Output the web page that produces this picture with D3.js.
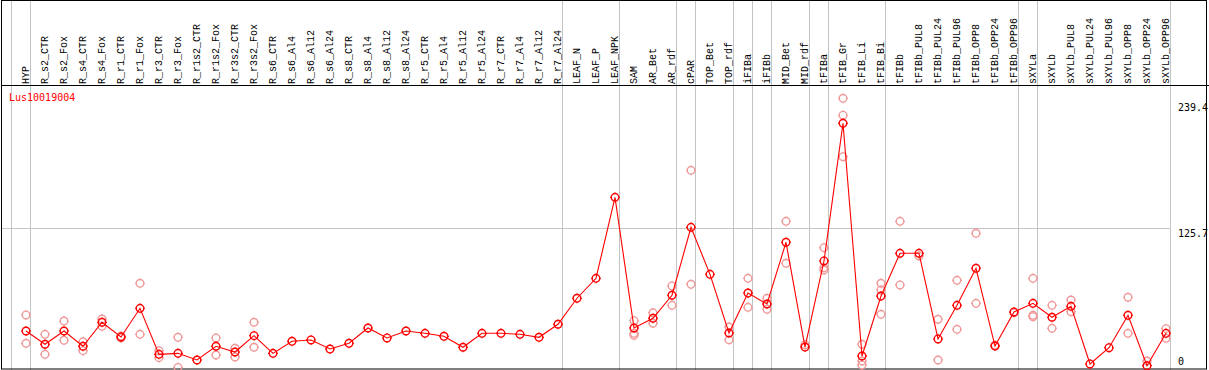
<!DOCTYPE html>
<html>
<head>
<meta charset="utf-8">
<script src="https://cdn.jsdelivr.net/npm/d3@7"></script>
<style>
  body { margin: 0; background: #fff; }
  svg { display: block; font-family: "DejaVu Sans Mono", "Liberation Mono", monospace; }
</style>
</head>
<body>
<div id="chart"></div>
<script>
const gene = "Lus10019004";

const categories = [
  "HYP", "R_s2_CTR", "R_s2_Fox", "R_s4_CTR", "R_s4_Fox", "R_r1_CTR", "R_r1_Fox",
  "R_r3_CTR", "R_r3_Fox", "R_r1s2_CTR", "R_r1s2_Fox", "R_r3s2_CTR", "R_r3s2_Fox",
  "R_s6_CTR", "R_s6_Al4", "R_s6_Al12", "R_s6_Al24", "R_s8_CTR", "R_s8_Al4", "R_s8_Al12",
  "R_s8_Al24", "R_r5_CTR", "R_r5_Al4", "R_r5_Al12", "R_r5_Al24", "R_r7_CTR", "R_r7_Al4",
  "R_r7_Al12", "R_r7_Al24", "LEAF_N", "LEAF_P", "LEAF_NPK", "SAM", "AR_Bet", "AR_rdf",
  "cPAR", "TOP_Bet", "TOP_rdf", "iFIBa", "iFIBb", "MID_Bet", "MID_rdf", "tFIBa",
  "tFIB_Gr", "tFIB_Li", "tFIB_Bi", "tFIBb", "tFIBb_PUL8", "tFIBb_PUL24", "tFIBb_PUL96",
  "tFIBb_OPP8", "tFIBb_OPP24", "tFIBb_OPP96", "sXYLa", "sXYLb", "sXYLb_PUL8",
  "sXYLb_PUL24", "sXYLb_PUL96", "sXYLb_OPP8", "sXYLb_OPP24", "sXYLb_OPP96"
];

// mean expression per sample
const means = [
  32.9, 20.9, 32.9, 19.1, 40.8, 27.5, 53.4, 11.8, 12.7, 6.7, 19.1, 13.9, 28.7,
  12.7, 23.6, 24.8, 16.6, 21.8, 35.6, 26.6, 32.9, 30.8, 28.1, 18.2, 30.8, 30.8,
  29.9, 27.2, 39.0, 62.5, 80.5, 153.7, 35.6, 44.4, 65.2, 126.6, 84.1, 31.1,
  67.2, 57.3, 113.1, 18.4, 96.2, 220.6, 10.3, 64.5, 103.1, 103.1, 25.7, 56.1,
  89.6, 19.3, 50.1, 57.9, 45.3, 55.2, 3.1, 17.8, 47.1, 1.5, 30.8
];

// individual replicates (only those not hidden behind the mean)
const replicates = [
  [47.4, 21.8], [29.9, 11.8], [41.9, 24.5], [23.2, 15.1], [43.7, 37.1], [28.4, 26.6],
  [76.0, 29.9], [15.1, 8.8], [27.2, 0], [], [26.6, 11.2], [17.3, 9.4], [40.8, 18.2],
  [], [], [], [], [], [], [], [], [], [], [], [], [], [], [], [], [], [], [],
  [42.2, 30.8, 29.0], [49.4, 39.9], [73.6, 56.1], [178.1, 75.1], [], [36.5, 25.0],
  [80.5, 54.3], [62.5, 52.5], [132.0, 94.1], [20.5], [108.2, 90.1, 88.0],
  [243.2, 227.9, 190.4], [20.9, 5.8, 2.2], [76.0, 70.0, 48.0], [132.0, 74.5], [100.7],
  [43.5, 6.7], [78.7, 34.4], [121.2, 57.9], [20.2], [49.4], [80.5, 47.1, 45.8],
  [56.1, 35.3], [60.9, 50.3], [], [], [63.4, 30.8], [5.8], [35.0, 26.3]
];

// last sample of each tissue group (a separator follows it)
const groupEnds = [
  "HYP", "R_r7_Al24", "LEAF_NPK", "AR_rdf", "cPAR", "TOP_rdf", "iFIBa", "iFIBb",
  "MID_rdf", "tFIBa", "tFIB_Bi", "tFIBb_OPP96", "sXYLa", "sXYLb_OPP96"
];

const yTicks = [239.4, 125.7, 0];
const gridValue = 125.7;

const width = 1209, height = 370;
const svg = d3.select("#chart").append("svg")
  .attr("width", width)
  .attr("height", height);

const x = d3.scalePoint().domain(categories).range([26, 1166]);
const step = x.step();
const y = d3.scaleLinear().domain([0, 239.4]).range([367.4, 102.5]);

const red = "#ff0000";
const pink = "#f09a9a";
const grey = "#c4c4c4";

// separators
const sepX = [x(categories[0]) - step + 4.5].concat(groupEnds.map(c => x(c) + 4.5));
svg.selectAll(".sep").data(sepX).enter().append("line")
  .attr("x1", d => d).attr("x2", d => d)
  .attr("y1", 0).attr("y2", height)
  .attr("stroke", grey).attr("stroke-width", 1);

// horizontal grid line
svg.append("line")
  .attr("x1", 1).attr("x2", d3.max(sepX))
  .attr("y1", Math.round(y(gridValue)) + 0.5).attr("y2", Math.round(y(gridValue)) + 0.5)
  .attr("stroke", grey).attr("stroke-width", 1);

// frame
svg.append("rect")
  .attr("x", 1.5).attr("y", 0.5)
  .attr("width", 1205).attr("height", 368.5)
  .attr("fill", "none").attr("stroke", "#000").attr("stroke-width", 1);
svg.append("line")
  .attr("x1", 1).attr("x2", width)
  .attr("y1", 85.5).attr("y2", 85.5)
  .attr("stroke", "#000").attr("stroke-width", 1);

// sample labels
svg.selectAll(".lab").data(categories).enter().append("text")
  .attr("transform", d => `translate(${x(d)},84) rotate(-90)`)
  .attr("dy", "0.3em")
  .attr("font-family", "'Liberation Mono', 'DejaVu Sans Mono', monospace")
  .attr("font-size", "10px")
  .attr("fill", "#000")
  .text(d => d);

// gene name
svg.append("text")
  .attr("x", 9).attr("y", 101)
  .attr("font-size", "10px")
  .attr("fill", red)
  .text(gene);

// right axis labels
svg.selectAll(".tick").data(yTicks).enter().append("text")
  .attr("x", 1178)
  .attr("y", d => d === 0 ? 365 : y(d) + 8.5)
  .attr("font-size", "10px")
  .attr("fill", "#000")
  .text(d => d);

function marker(g, cx, cy, color) {
  const r = 3.8;
  g.append("circle")
    .attr("cx", cx).attr("cy", cy).attr("r", r)
    .attr("fill", "none").attr("stroke", color).attr("stroke-width", 1.4);
  [[0, -1], [0, 1], [-1, 0], [1, 0]].forEach(([dx, dy]) => {
    g.append("line")
      .attr("x1", cx + dx * r).attr("y1", cy + dy * r)
      .attr("x2", cx + dx * (r + 1.2)).attr("y2", cy + dy * (r + 1.2))
      .attr("stroke", color).attr("stroke-width", 1);
  });
}

// replicates
const repG = svg.append("g");
categories.forEach((c, i) => {
  replicates[i].forEach(v => marker(repG, x(c), y(v), pink));
});

// mean line
const line = d3.line()
  .x((d, i) => x(categories[i]))
  .y(d => y(d));
svg.append("path")
  .datum(means)
  .attr("d", line)
  .attr("fill", "none")
  .attr("stroke", red)
  .attr("stroke-width", 1.1);

// mean markers
const meanG = svg.append("g");
means.forEach((v, i) => marker(meanG, x(categories[i]), y(v), red));
</script>
</body>
</html>
